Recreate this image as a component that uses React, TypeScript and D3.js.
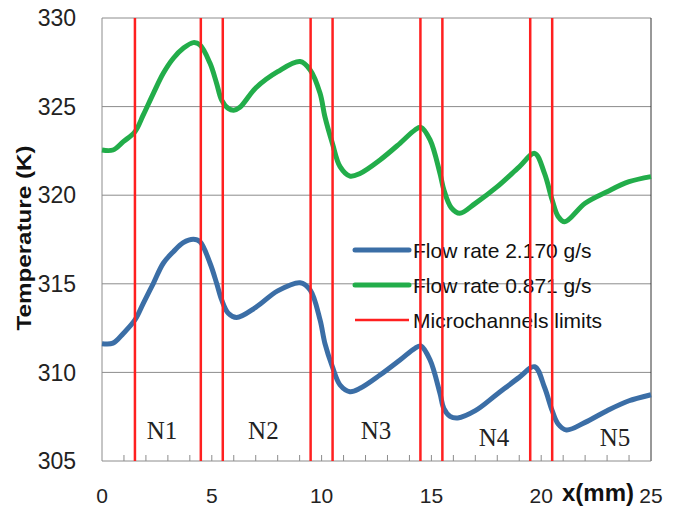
import React from 'react';
import * as d3 from 'd3';

// readings: x in mm, temperature in K
const xHigh = [0, 0.5, 0.97, 1.5, 1.88, 2.34, 2.79, 3.25, 3.7, 4.16, 4.46, 4.92, 5.22, 5.45, 5.75, 6.13, 7, 8, 9.02, 9.48, 9.93, 10.15, 10.49, 10.84, 11.29, 11.75, 12.66, 13.57, 14.25, 14.52, 14.94, 15.39, 15.57, 15.85, 16.2, 17, 18, 19, 19.7, 20.15, 20.5, 20.77, 21.15, 22, 23, 24, 25];
const tHigh = [311.62, 311.65, 312.2, 312.96, 313.9, 315.03, 316.16, 316.81, 317.32, 317.51, 317.38, 316.16, 315.03, 314.09, 313.34, 313.1, 313.67, 314.6, 315.06, 314.65, 312.96, 311.64, 310.32, 309.29, 308.91, 309.1, 309.85, 310.7, 311.36, 311.49, 310.7, 308.82, 307.95, 307.52, 307.43, 307.84, 308.78, 309.72, 310.32, 309.16, 307.84, 307.09, 306.75, 307.18, 307.84, 308.4, 308.74];

const xLow = [0, 0.5, 0.97, 1.5, 1.88, 2.34, 2.79, 3.25, 3.7, 4.16, 4.46, 4.92, 5.22, 5.45, 5.75, 6.0, 6.28, 7, 8, 9.02, 9.48, 9.93, 10.15, 10.49, 10.84, 11.29, 11.75, 12.66, 13.57, 14.25, 14.52, 14.94, 15.39, 15.57, 15.9, 16.29, 17, 18, 19, 19.7, 20.15, 20.5, 20.77, 21.07, 22, 23, 24, 25];
const tLow = [322.55, 322.55, 323.02, 323.58, 324.53, 325.75, 326.88, 327.73, 328.29, 328.61, 328.48, 327.44, 326.31, 325.37, 324.9, 324.8, 324.96, 326.05, 326.97, 327.54, 327.07, 325.75, 324.43, 322.93, 321.61, 321.08, 321.23, 321.99, 322.93, 323.68, 323.83, 323.12, 321.23, 320.29, 319.3, 318.98, 319.54, 320.48, 321.6, 322.36, 321.23, 319.73, 318.8, 318.5, 319.55, 320.2, 320.76, 321.05];

const limits = [1.5, 4.5, 5.5, 9.5, 10.5, 14.5, 15.5, 19.5, 20.5];
const zones = ['N1', 'N2', 'N3', 'N4', 'N5'];
const zoneX = [2.73, 7.35, 12.48, 17.85, 23.36];
const zoneT = [306.75, 306.75, 306.75, 306.35, 306.35];

const yTicks = [305, 310, 315, 320, 325, 330];
const xTicks = [0, 5, 10, 15, 20, 25];
const legendLabels = ['Flow rate 2.170 g/s', 'Flow rate 0.871 g/s', 'Microchannels limits'];

const W = 678;
const H = 508;
const margin = { top: 18, right: 27, bottom: 47, left: 102 };

const BLUE = '#3b6ea6';
const GREEN = '#22ad4a';
const RED = '#ff2020';
const SANS = 'Liberation Sans, Arial, sans-serif';

export default function App() {
  const x = d3.scaleLinear().domain([0, 25]).range([margin.left, W - margin.right]);
  const y = d3.scaleLinear().domain([305, 330]).range([H - margin.bottom, margin.top]);

  const line = d3.line<number[]>().curve(d3.curveCatmullRom.alpha(0.5));
  const highPath = line(xHigh.map((v, i) => [x(v), y(tHigh[i])]));
  const lowPath = line(xLow.map((v, i) => [x(v), y(tLow[i])]));

  const minor = d3.range(1, 25);
  const bottom = y(305);

  return (
    <svg width={W} height={H} style={{ position: 'absolute', left: 0, top: 0, background: '#fff' }}>
      {/* grid */}
      {yTicks.slice(1).map(t => (
        <line key={t} x1={x(0)} x2={x(25)} y1={y(t)} y2={y(t)} stroke="#8c8c8c" strokeWidth={1} />
      ))}
      <line x1={x(0)} x2={x(0)} y1={y(330)} y2={bottom} stroke="#8c8c8c" />
      <line x1={x(25)} x2={x(25)} y1={y(330)} y2={bottom} stroke="#333" />
      <line x1={x(0)} x2={x(25)} y1={bottom} y2={bottom} stroke="#8c8c8c" />
      {minor.map(m => (
        <line key={m} x1={x(m)} x2={x(m)} y1={bottom} y2={bottom - 6} stroke="#8c8c8c" />
      ))}

      {/* tick labels */}
      {yTicks.map(t => (
        <text key={t} x={76} y={y(t)} dy="0.36em" textAnchor="end"
          fontFamily={SANS} fontSize={23} fill="#222">{t}</text>
      ))}
      {xTicks.map(t => (
        <text key={t} x={x(t)} y={503} textAnchor="middle"
          fontFamily={SANS} fontSize={21} fill="#222">{t}</text>
      ))}

      {/* axis titles */}
      <text transform={`translate(31,238) rotate(-90)`} textAnchor="middle"
        fontFamily={SANS} fontWeight="bold" fontSize={21} textLength={185} lengthAdjust="spacingAndGlyphs"
        fill="#111">Temperature (K)</text>
      <text x={598} y={492} dy="0.36em" textAnchor="middle"
        fontFamily={SANS} fontWeight="bold" fontSize={24} fill="#111">x(mm)</text>

      {/* zone labels */}
      {zones.map((z, i) => (
        <text key={z} x={x(zoneX[i])} y={y(zoneT[i])} dy="0.35em" textAnchor="middle"
          fontFamily="Liberation Serif, Times New Roman, serif" fontSize={25} fill="#222">{z}</text>
      ))}

      {/* series */}
      <path d={highPath ?? ''} fill="none" stroke={BLUE} strokeWidth={5} strokeLinejoin="round" />
      <path d={lowPath ?? ''} fill="none" stroke={GREEN} strokeWidth={5} strokeLinejoin="round" />

      {/* legend */}
      {legendLabels.map((l, i) => {
        const ly = 250 + i * 35;
        const col = [BLUE, GREEN, RED][i];
        return (
          <g key={l}>
            <line x1={355} x2={409} y1={ly} y2={ly} stroke={col} strokeWidth={i < 2 ? 5 : 2.5} strokeLinecap={i < 2 ? 'round' : 'butt'} />
            <text x={413} y={ly} dy="0.36em" fontFamily={SANS} fontSize={21} fill="#111">{l}</text>
          </g>
        );
      })}

      {/* microchannel limits */}
      {limits.map(l => (
        <line key={l} x1={x(l)} x2={x(l)} y1={y(330)} y2={bottom} stroke={RED} strokeWidth={2.5} />
      ))}
    </svg>
  );
}
